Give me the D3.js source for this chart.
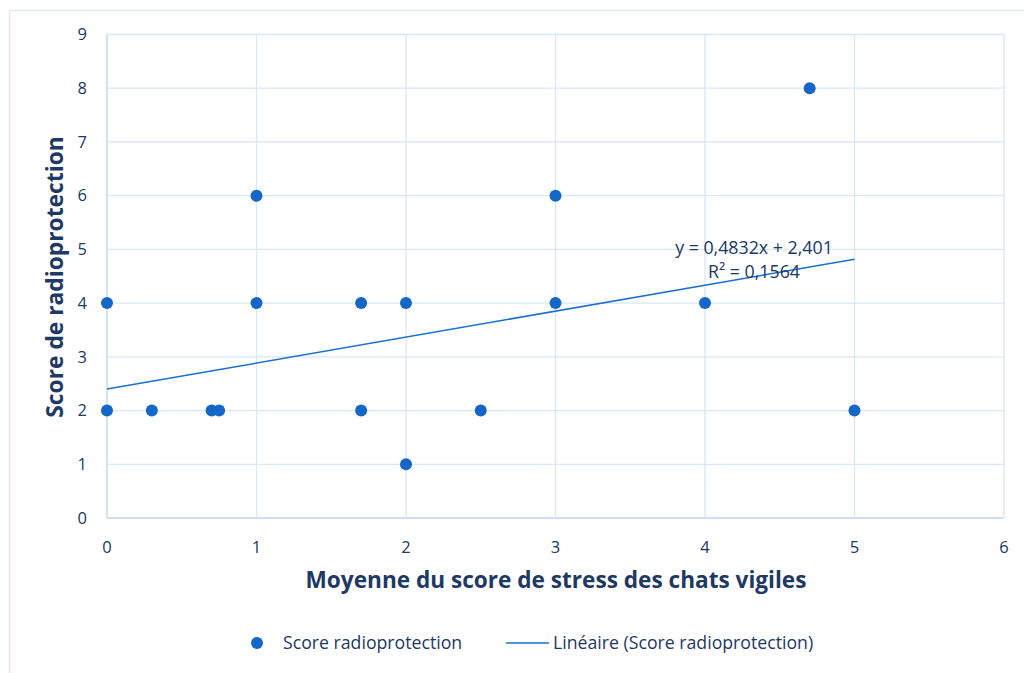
<!DOCTYPE html>
<html><head><meta charset="utf-8">
<script src="https://cdn.jsdelivr.net/npm/d3@7"></script>
<style>body{margin:0;background:#fff}svg{display:block}</style>
</head><body>
<svg id="c" width="1024" height="673"></svg>
<script>
const xValues = [0, 0, 0.3, 0.7, 0.75, 1, 1, 1.7, 1.7, 2, 2, 2.5, 3, 3, 4, 4.7, 5];
const yValues = [4, 2, 2, 2, 2, 6, 4, 4, 2, 4, 1, 2, 6, 4, 4, 8, 2];
const xTicks = [0, 1, 2, 3, 4, 5, 6];
const yTicks = [0, 1, 2, 3, 4, 5, 6, 7, 8, 9];
const slope = 0.4832, intercept = 2.401;
const trendRange = [0, 5];
const eqLines = ["y = 0,4832x + 2,401", "R² = 0,1564"];
const xTitle = "Moyenne du score de stress des chats vigiles";
const yTitle = "Score de radioprotection";
const legendLabels = ["Score radioprotection", "Linéaire (Score radioprotection)"];

const svg = d3.select("#c");
const font = "'Open Sans', Lato, sans-serif";
const textCol = "#203864", gridCol = "#d9e6f6", axisCol = "#bcd3f0", dotCol = "#1467c6";

svg.append("rect").attr("x", 9.5).attr("y", 10.5).attr("width", 1030).attr("height", 680)
  .attr("fill", "none").attr("stroke", "#dde8f5").attr("stroke-width", 1.5);

const x = d3.scaleLinear().domain([0, 6]).range([107, 1004]);
const y = d3.scaleLinear().domain([0, 9]).range([518, 34.5]);

const g = svg.append("g");
g.selectAll(".hg").data(yTicks).join("line")
  .attr("x1", x(0)).attr("x2", x(6)).attr("y1", d => y(d)).attr("y2", d => y(d))
  .attr("stroke", d => d === 0 ? axisCol : gridCol).attr("stroke-width", 1.3);
g.selectAll(".vg").data(xTicks).join("line")
  .attr("y1", y(0)).attr("y2", y(9)).attr("x1", d => x(d)).attr("x2", d => x(d))
  .attr("stroke", d => d === 0 ? axisCol : gridCol).attr("stroke-width", 1.3);

g.selectAll(".yt").data(yTicks).join("text")
  .attr("x", 87).attr("y", d => y(d)).attr("dy", "0.35em").attr("text-anchor", "end")
  .attr("font-family", font).attr("font-size", 16.5).attr("fill", textCol).text(d => d);
g.selectAll(".xt").data(xTicks).join("text")
  .attr("x", d => x(d)).attr("y", 553).attr("text-anchor", "middle")
  .attr("font-family", font).attr("font-size", 16.5).attr("fill", textCol).text(d => d);

// trendline
g.append("line")
  .attr("x1", x(trendRange[0])).attr("y1", y(slope * trendRange[0] + intercept))
  .attr("x2", x(trendRange[1])).attr("y2", y(slope * trendRange[1] + intercept))
  .attr("stroke", "#1a6fd0").attr("stroke-width", 1.5);

// points
g.selectAll(".pt").data(xValues.map((v, i) => [v, yValues[i]])).join("circle")
  .attr("cx", d => x(d[0])).attr("cy", d => y(d[1])).attr("r", 6).attr("fill", dotCol);

// equation
g.selectAll(".eq").data(eqLines).join("text")
  .attr("x", 754).attr("y", (d, i) => 254 + i * 24).attr("text-anchor", "middle")
  .attr("font-family", font).attr("font-size", 17.8).attr("fill", textCol).text(d => d);

// axis titles
svg.append("text").attr("x", 556).attr("y", 588).attr("text-anchor", "middle")
  .attr("font-family", font).attr("font-size", 22.6).attr("font-weight", "bold").attr("fill", textCol)
  .text(xTitle);
svg.append("text").attr("transform", "translate(63,277) rotate(-90)").attr("text-anchor", "middle")
  .attr("font-family", font).attr("font-size", 22.8).attr("font-weight", "bold").attr("fill", textCol)
  .text(yTitle);

// legend
svg.append("circle").attr("cx", 257).attr("cy", 643).attr("r", 6).attr("fill", dotCol);
svg.append("text").attr("x", 283).attr("y", 649).attr("font-family", font).attr("font-size", 17.7)
  .attr("fill", textCol).text(legendLabels[0]);
svg.append("line").attr("x1", 506).attr("x2", 549).attr("y1", 643).attr("y2", 643)
  .attr("stroke", "#1a6fd0").attr("stroke-width", 1.5);
svg.append("text").attr("x", 553).attr("y", 649).attr("font-family", font).attr("font-size", 17.7)
  .attr("fill", textCol).text(legendLabels[1]);
</script>
</body></html>
